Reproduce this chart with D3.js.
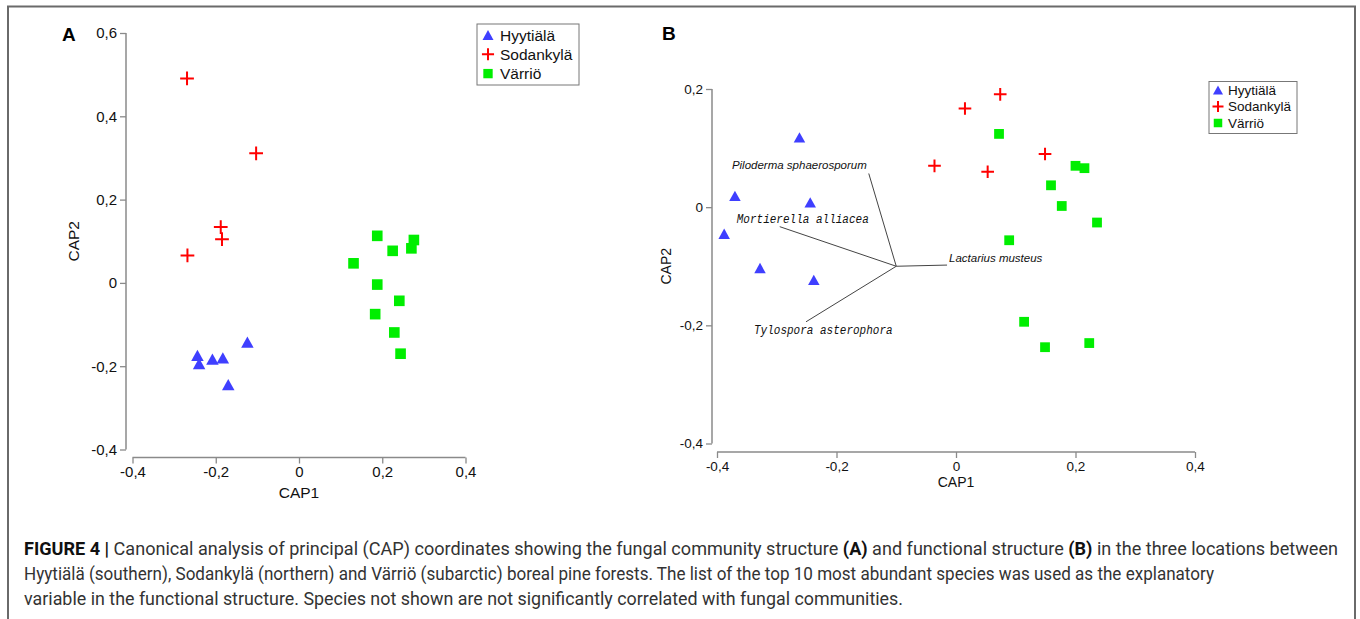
<!DOCTYPE html>
<html><head><meta charset="utf-8">
<script src="https://cdn.jsdelivr.net/npm/d3@7"></script>
<style>body{margin:0;background:#fff}svg{display:block}</style>
</head><body>
<svg id="c" width="1360" height="619"></svg>
<script>
// ---------- data ----------
const sites = ["Hyytiälä", "Sodankylä", "Värriö"];
const xTicks = [-0.4, -0.2, 0, 0.2, 0.4];
const xTickLabels = ["-0,4", "-0,2", "0", "0,2", "0,4"];
const yTicksA = [-0.4, -0.2, 0, 0.2, 0.4, 0.6];
const yTickLabelsA = ["-0,4", "-0,2", "0", "0,2", "0,4", "0,6"];
const yTicksB = [-0.4, -0.2, 0, 0.2];
const yTickLabelsB = ["-0,4", "-0,2", "0", "0,2"];

// Panel A
const aHyyX = [-0.244, -0.240, -0.208, -0.183, -0.170, -0.124];
const aHyyY = [-0.174, -0.194, -0.183, -0.180, -0.244, -0.142];
const aSodX = [-0.269, -0.103, -0.188, -0.185, -0.268];
const aSodY = [0.491, 0.311, 0.134, 0.105, 0.066];
const aVarX = [0.188, 0.225, 0.276, 0.270, 0.131, 0.188, 0.241, 0.183, 0.229, 0.244];
const aVarY = [0.113, 0.077, 0.103, 0.083, 0.047, -0.004, -0.043, -0.075, -0.119, -0.170];

// Panel B
const bHyyX = [-0.370, -0.262, -0.244, -0.388, -0.328, -0.238];
const bHyyY = [0.019, 0.118, 0.008, -0.045, -0.103, -0.123];
const bSodX = [0.074, 0.015, 0.149, -0.036, 0.053];
const bSodY = [0.191, 0.167, 0.090, 0.070, 0.060];
const bVarX = [0.072, 0.200, 0.215, 0.159, 0.177, 0.236, 0.089, 0.114, 0.149, 0.223];
const bVarY = [0.124, 0.070, 0.066, 0.037, 0.002, -0.026, -0.056, -0.194, -0.237, -0.230];

// biplot vectors (panel B)
const vecOrigin = [-0.1, -0.1];
const vecNames = ["Piloderma sphaerosporum", "Mortierella alliacea", "Lactarius musteus", "Tylospora asterophora"];
const vecX = [-0.146, -0.295, -0.015, -0.251];
const vecY = [0.057, -0.033, -0.098, -0.194];

const captionLines = [
  [["FIGURE 4 | ", true], ["Canonical analysis of principal (CAP) coordinates showing the fungal community structure ", false], ["(A)", true], [" and functional structure ", false], ["(B)", true], [" in the three locations between", false]],
  [["Hyytiälä (southern), Sodankylä (northern) and Värriö (subarctic) boreal pine forests. The list of the top 10 most abundant species was used as the explanatory", false]],
  [["variable in the functional structure. Species not shown are not significantly correlated with fungal communities.", false]]
];

// ---------- drawing ----------
const svg = d3.select("#c");
const FONT = "'Liberation Sans', Arial, sans-serif";
const colors = {"Hyytiälä": "#3f3fff", "Sodankylä": "#ff0000", "Värriö": "#00ee00"};
const axisColor = "#8a8a8a";

// outer frame
svg.append("path").attr("d", "M8,625 L8,6.5 L1355,6.5 L1355,625")
  .attr("fill", "none").attr("stroke", "#6a6a6a").attr("stroke-width", 2);

function marker(g, site, cx, cy, s) {
  if (site === "Hyytiälä") {
    const h = s * 0.9;
    g.append("path").attr("d", `M${cx},${cy - h/2} L${cx + s/2},${cy + h/2} L${cx - s/2},${cy + h/2} Z`)
      .attr("fill", colors[site]);
  } else if (site === "Sodankylä") {
    const r = s * 0.55;
    g.append("path").attr("d", `M${cx - r},${cy} L${cx + r},${cy} M${cx},${cy - r} L${cx},${cy + r}`)
      .attr("stroke", colors[site]).attr("stroke-width", 2).attr("fill", "none");
  } else {
    const w = s * 0.85;
    g.append("rect").attr("x", cx - w/2).attr("y", cy - w/2).attr("width", w).attr("height", w)
      .attr("fill", colors[site]);
  }
}

function panel(cfg) {
  const g = svg.append("g");
  const x = d3.scaleLinear().domain([-0.4, 0.4]).range(cfg.xRange);
  const y = d3.scaleLinear().domain(cfg.yDomain).range(cfg.yRange);

  const xAxis = d3.axisBottom(x).tickValues(xTicks).tickSize(6).tickPadding(3)
    .tickFormat((d, i) => xTickLabels[i]);
  const gx = g.append("g").attr("transform", `translate(0,${cfg.xAxisY})`).call(xAxis);
  const yAxis = d3.axisLeft(y).tickValues(cfg.yTicks).tickSize(6).tickPadding(3)
    .tickFormat((d, i) => cfg.yTickLabels[i]);
  const gy = g.append("g").attr("transform", `translate(${cfg.yAxisX},0)`).call(yAxis);
  [gx, gy].forEach(a => {
    a.select(".domain").attr("stroke", axisColor).attr("stroke-width", 1.5)
      .attr("d", a === gx ? `M${cfg.xRange[0]},0H${cfg.xRange[1]}` : `M0,${cfg.yRange[0]}V${cfg.yRange[1]}`);
    a.selectAll(".tick line").attr("stroke", axisColor).attr("stroke-width", 1.3);
    a.selectAll(".tick text").attr("fill", "#111").attr("font-family", FONT).attr("font-size", cfg.tickFont);
  });

  g.append("text").attr("x", (cfg.xRange[0] + cfg.xRange[1]) / 2).attr("y", cfg.xLabelY)
    .attr("text-anchor", "middle").attr("font-family", FONT).attr("font-size", cfg.labelFont).attr("fill", "#111").text("CAP1");
  g.append("text").attr("transform", `translate(${cfg.yLabelX},${(cfg.yRange[0] + cfg.yRange[1]) / 2}) rotate(-90)`)
    .attr("text-anchor", "middle").attr("font-family", FONT).attr("font-size", cfg.labelFont).attr("fill", "#111").text("CAP2");
  g.append("text").attr("x", cfg.letterX).attr("y", cfg.letterY).attr("font-family", FONT)
    .attr("font-weight", "bold").attr("font-size", 19).attr("fill", "#000").text(cfg.letter);

  if (cfg.extra) cfg.extra(g, x, y);

  cfg.series.forEach(([site, xs, ys]) => {
    xs.forEach((v, i) => marker(g, site, x(v), y(ys[i]), cfg.mSize));
  });

  // legend
  const L = cfg.legend;
  g.append("rect").attr("x", L.x).attr("y", L.y).attr("width", L.w).attr("height", L.h)
    .attr("fill", "#fff").attr("stroke", "#777").attr("stroke-width", 1);
  sites.forEach((s, i) => {
    const cy = L.y + L.row0 + i * L.step;
    marker(g, s, L.x + L.sx, cy, L.ms);
    g.append("text").attr("x", L.x + L.tx).attr("y", cy).attr("dy", "0.36em")
      .attr("font-family", FONT).attr("font-size", L.font).attr("fill", "#111").text(s);
  });
}

// Panel A
panel({
  xRange: [132.5, 465.5], yDomain: [-0.4, 0.6], yRange: [449.5, 33],
  xAxisY: 457.5, yAxisX: 126, yTicks: yTicksA, yTickLabels: yTickLabelsA,
  tickFont: 15, labelFont: 15.5, xLabelY: 498, yLabelX: 79,
  letter: "A", letterX: 62, letterY: 41, mSize: 12.5,
  series: [["Hyytiälä", aHyyX, aHyyY], ["Sodankylä", aSodX, aSodY], ["Värriö", aVarX, aVarY]],
  legend: {x: 477, y: 24, w: 102, h: 61, row0: 11, step: 19.3, sx: 11, tx: 23, ms: 11, font: 15.5}
});

// Panel B
panel({
  xRange: [717, 1195], yDomain: [-0.4, 0.2], yRange: [443.5, 89],
  xAxisY: 452, yAxisX: 712, yTicks: yTicksB, yTickLabels: yTickLabelsB,
  tickFont: 13.5, labelFont: 14, xLabelY: 487, yLabelX: 671,
  letter: "B", letterX: 662, letterY: 40, mSize: 11.5,
  series: [["Hyytiälä", bHyyX, bHyyY], ["Sodankylä", bSodX, bSodY], ["Värriö", bVarX, bVarY]],
  legend: {x: 1209, y: 81.5, w: 88, h: 52, row0: 8.5, step: 16.5, sx: 9, tx: 19, ms: 10, font: 13.5},
  extra: (g, x, y) => {
    const ox = x(vecOrigin[0]), oy = y(vecOrigin[1]);
    // label placement relative to each arrow tip: [dx, dy, anchor, font]
    const place = [
      [-2, -4, "end", "sans"],
      [-43, -4, "start", "mono"],
      [2, -3, "start", "sans"],
      [-52, 12, "start", "mono"]
    ];
    vecNames.forEach((n, i) => {
      const ex = x(vecX[i]), ey = y(vecY[i]);
      g.append("line").attr("x1", ox).attr("y1", oy).attr("x2", ex).attr("y2", ey)
        .attr("stroke", "#444").attr("stroke-width", 1);
      const p = place[i];
      const t = g.append("text").attr("x", ex + p[0]).attr("y", ey + p[1]).attr("text-anchor", p[2])
        .attr("font-style", "italic").attr("fill", "#111").text(n);
      if (p[3] === "sans") t.attr("font-family", FONT).attr("font-size", 11.5);
      else t.attr("font-family", "'Liberation Mono', 'DejaVu Sans Mono', monospace").attr("font-size", 12.5)
        .attr("textLength", n.length * 6.6).attr("lengthAdjust", "spacingAndGlyphs");
    });
  }
});

// caption
const capWidths = [1314, 1190, 879];
const capY = [555, 580, 605];
captionLines.forEach((parts, i) => {
  const t = svg.append("text").attr("x", 24).attr("y", capY[i])
    .attr("font-family", "'Roboto', 'Liberation Sans', sans-serif").attr("font-size", 17.5).attr("fill", "#333")
    .attr("textLength", capWidths[i]).attr("lengthAdjust", "spacingAndGlyphs");
  parts.forEach(([s, b]) => {
    t.append("tspan").attr("font-weight", b ? "bold" : "normal").attr("fill", b ? "#111" : "#333").text(s);
  });
});
</script>
</body></html>
